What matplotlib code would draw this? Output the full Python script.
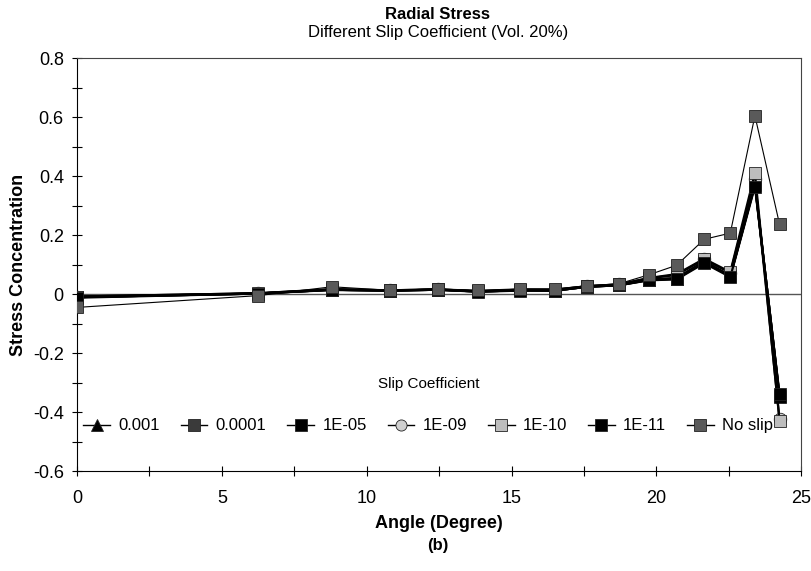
import numpy as np
import matplotlib
matplotlib.use("Agg")
import matplotlib.pyplot as plt
from matplotlib.ticker import MultipleLocator

plt.rcParams['font.family'] = ['Liberation Sans', 'DejaVu Sans']

# angular positions of the nodes along the interface
angle = [0, 6.25, 8.8, 10.8, 12.45, 13.85, 15.3, 16.5, 17.6, 18.7,
         19.75, 20.7, 21.65, 22.55, 23.4, 24.25]

s_0001 = [-0.010, 0.002, 0.015, 0.012, 0.015, 0.009, 0.013, 0.012, 0.025, 0.030,
          0.048, 0.052, 0.108, 0.060, 0.370, -0.345]
s_00001 = [-0.010, 0.002, 0.015, 0.012, 0.015, 0.009, 0.013, 0.012, 0.025, 0.030,
           0.049, 0.053, 0.110, 0.061, 0.372, -0.345]
s_1e05 = [-0.010, 0.002, 0.015, 0.012, 0.015, 0.009, 0.013, 0.012, 0.025, 0.031,
          0.050, 0.055, 0.112, 0.063, 0.375, -0.350]
s_1e09 = [-0.008, 0.003, 0.016, 0.013, 0.016, 0.010, 0.015, 0.014, 0.027, 0.033,
          0.054, 0.065, 0.118, 0.072, 0.390, -0.425]
s_1e10 = [-0.008, 0.003, 0.017, 0.013, 0.016, 0.010, 0.015, 0.015, 0.027, 0.033,
          0.055, 0.068, 0.120, 0.075, 0.410, -0.430]
s_1e11 = [-0.012, 0.002, 0.014, 0.012, 0.015, 0.008, 0.012, 0.012, 0.025, 0.030,
          0.047, 0.050, 0.105, 0.058, 0.365, -0.340]
no_slip = [-0.045, -0.005, 0.025, 0.013, 0.018, 0.013, 0.018, 0.018, 0.028, 0.035,
           0.066, 0.098, 0.186, 0.207, 0.605, 0.237]

labels = ['0.001', '0.0001', '1E-05', '1E-09', '1E-10', '1E-11', 'No slip']
series = [s_0001, s_00001, s_1e05, s_1e09, s_1e10, s_1e11, no_slip]
markers = ['^', 's', 's', 'o', 's', 's', 's']
faces = ['black', '#3a3a3a', 'black', '#d0d0d0', '#bdbdbd', 'black', '#5a5a5a']
widths = [1.6, 1.6, 1.6, 1.6, 1.6, 1.6, 0.8]

fig = plt.figure(figsize=(8.11, 5.71), dpi=100)
ax = fig.add_axes([0.095, 0.175, 0.893, 0.723])

ax.axhline(0, color='#555555', lw=1.0, zorder=1)
for y, lab, m, fc, lw in zip(series, labels, markers, faces, widths):
    ax.plot(angle, y, color='black', lw=lw, marker=m, markersize=9,
            markerfacecolor=fc, markeredgecolor='#222222', markeredgewidth=0.6,
            label=lab, zorder=3)

ax.set_xlim(0, 25)
ax.set_ylim(-0.6, 0.8)
ax.xaxis.set_major_locator(MultipleLocator(5))
ax.xaxis.set_minor_locator(MultipleLocator(2.5))
ax.yaxis.set_minor_locator(MultipleLocator(0.1))
ax.set_yticks(np.arange(-0.6, 0.81, 0.2))
ax.set_yticklabels(['-0.6', '-0.4', '-0.2', '0', '0.2', '0.4', '0.6', '0.8'])
ax.tick_params(which='both', direction='inout', length=7, width=0.8,
               labelsize=13)
ax.tick_params(axis='x', pad=10)
ax.tick_params(axis='y', pad=6)

for side in ['top', 'right']:
    ax.spines[side].set_color('#444444')
    ax.spines[side].set_linewidth(0.8)

ax.set_xlabel('Angle (Degree)', fontsize=13, fontweight='bold', labelpad=6)
ax.set_ylabel('Stress Concentration', fontsize=13, fontweight='bold', labelpad=4)

fig.text(0.54, 0.975, 'Radial Stress', ha='center', va='center',
         fontsize=12, fontweight='bold')
fig.text(0.54, 0.943, 'Different Slip Coefficient (Vol. 20%)', ha='center',
         va='center', fontsize=12)
fig.text(0.54, 0.045, '(b)', ha='center', va='center', fontsize=12,
         fontweight='bold')

leg = ax.legend(ncol=7, loc='center', bbox_to_anchor=(0.485, 0.16),
                frameon=False, title='Slip Coefficient', title_fontsize=11,
                fontsize=12, handlelength=1.6, handletextpad=0.5,
                columnspacing=1.25)
leg._legend_box.sep = 20
for h in leg.legend_handles:
    h.set_linewidth(1.0)
    h.set_markersize(8)

fig.savefig('out.png', dpi=100)
